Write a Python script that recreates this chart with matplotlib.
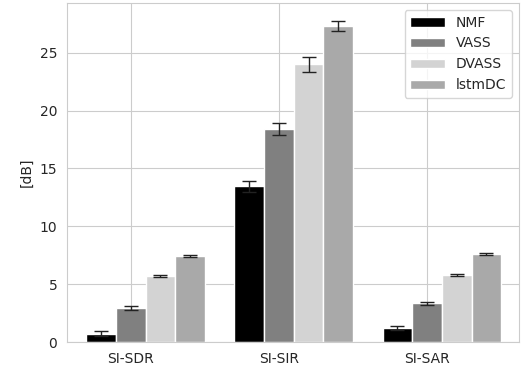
import numpy as np
import matplotlib
matplotlib.use("Agg")
import matplotlib.pyplot as plt
import seaborn as sns

metrics = ["SI-SDR", "SI-SIR", "SI-SAR"]
methods = ["NMF", "VASS", "DVASS", "lstmDC"]
colors = ["black", "gray", "lightgray", "darkgray"]

nmf = [0.72, 13.45, 1.2]
vass = [2.95, 18.4, 3.35]
dvass = [5.7, 24.0, 5.8]
lstmdc = [7.45, 27.3, 7.6]

nmf_err = [0.2, 0.45, 0.2]
vass_err = [0.15, 0.5, 0.15]
dvass_err = [0.1, 0.65, 0.1]
lstmdc_err = [0.1, 0.45, 0.1]

sns.set_style("whitegrid")
fig = plt.figure(figsize=(5.25, 3.76), dpi=100)
ax = fig.add_axes([0.1276, 0.0904, 0.861, 0.9016])

values = [nmf, vass, dvass, lstmdc]
errors = [nmf_err, vass_err, dvass_err, lstmdc_err]
x = np.arange(len(metrics))
w = 0.2
# bars shifted so that VASS sits on the tick
for i in range(len(methods)):
    ax.bar(x + (i - 1) * w, values[i], w, yerr=errors[i], color=colors[i],
           edgecolor="white", linewidth=1, label=methods[i], capsize=5,
           error_kw=dict(elinewidth=1, ecolor="#222222", capthick=1))

ax.set_xticks(x)
ax.set_xticklabels(metrics, fontsize=10)
ax.set_xlim(-0.43, 2.62)
ax.set_ylim(0, 29.3)
ax.set_yticks([0, 5, 10, 15, 20, 25])
ax.tick_params(axis="y", labelsize=10)
ax.set_ylabel("[dB]", fontsize=10)
ax.legend(loc="upper right", fontsize=10, handlelength=2.5)

fig.savefig("out.png", dpi=100)
